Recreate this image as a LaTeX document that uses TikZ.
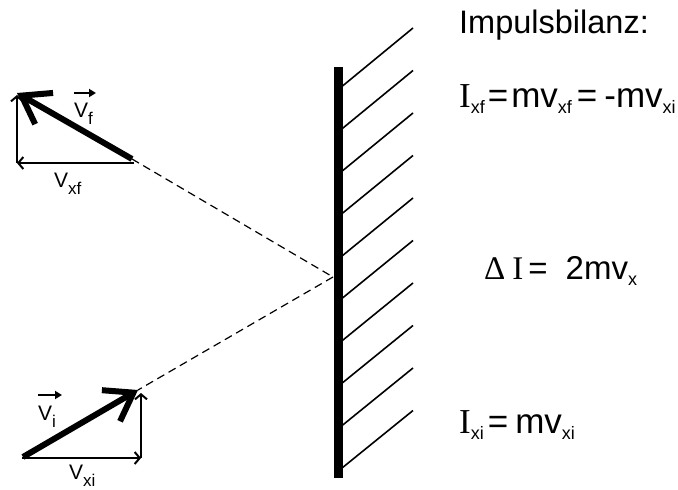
\documentclass[tikz,border=0pt]{standalone}
\usepackage{fontspec}
\setmainfont{Liberation Sans}
\newfontfamily\seriffont{Liberation Serif}
\usetikzlibrary{arrows.meta}
\newcommand{\eqsub}[1]{\raisebox{-6pt}{\fontsize{18}{18}\selectfont #1}}
\newcommand{\lbsub}[1]{\raisebox{-7pt}{\fontsize{17}{17}\selectfont #1}}
\tikzset{
  vecarrow/.style={line width=6pt, -{Straight Barb[length=26pt,width=36pt]}},
  comparrow/.style={line width=2pt, -{Straight Barb[length=5pt,width=12pt]}},
  dash line/.style={line width=1.2pt, dash pattern=on 8pt off 5pt},
  hatch/.style={line width=1.6pt},
  wallbar/.style={line width=9pt},
  vlabel/.style={anchor=base west, inner sep=0pt, font=\fontsize{21}{21}\selectfont},
  eqlabel/.style={anchor=base west, inner sep=0pt, font=\fontsize{35}{35}\selectfont},
  overarrow/.style={line width=2.6pt, -{Triangle[length=7pt,width=8pt]}}
}
\begin{document}
\begin{tikzpicture}[x=1pt,y=-1pt]
\useasboundingbox (0,0) rectangle (678,490);
% wall
\coordinate (wtop) at (338,67);
\coordinate (wbot) at (338,478);
\draw[wallbar] (wtop) -- (wbot);
\foreach \k in {0,...,9}{
  \coordinate (hs\k) at (342.5,{86+42.4*\k});
  \coordinate (he\k) at (413,{28+42.5*\k});
  \draw[hatch] (hs\k) -- (he\k);
}
% hit point
\coordinate (hit) at (333,277);
% final velocity
\coordinate (ftail) at (132,159);
\coordinate (ftip) at (17,93);
\coordinate (fhor) at (134,163);
\coordinate (fcorner) at (17,163);
\coordinate (fvert) at (17,95);
\draw[dash line] (ftail) -- (hit);
\draw[comparrow] (fhor) -- (fcorner);
\draw[comparrow] (fcorner) -- (fvert);
\draw[vecarrow] (ftail) -- (ftip);
% initial velocity
\coordinate (itail) at (23,457);
\coordinate (itip) at (138,390);
\coordinate (ihor) at (22,458);
\coordinate (icorner) at (141,458);
\coordinate (ivert) at (141,393);
\draw[dash line] (hit) -- (itip);
\draw[comparrow] (ihor) -- (icorner);
\draw[comparrow] (icorner) -- (ivert);
\draw[vecarrow] (itail) -- (itip);
% labels
\node[vlabel] (vf) at (74,117) {V\lbsub{f}};
\coordinate (vfa) at (74,93);
\coordinate (vfb) at (96,93);
\draw[overarrow] (vfa) -- (vfb);
\node[vlabel] (vxf) at (54,187) {V\lbsub{xf}};
\node[vlabel] (vi) at (38,420) {V\lbsub{i}};
\coordinate (via) at (38,395);
\coordinate (vib) at (62,395);
\draw[overarrow] (via) -- (vib);
\node[vlabel] (vxi) at (69,479) {V\lbsub{xi}};
% equations
\node[anchor=base west, inner sep=0pt, font=\fontsize{32.5}{32.5}\selectfont] (title) at (459,33) {Impulsbilanz:};
\node[eqlabel] (eq1) at (459,107) {{\seriffont I}\eqsub{xf}\kern3pt=\kern3pt mv\eqsub{xf}\kern5pt=\kern7pt-mv\eqsub{xi}};
\node[anchor=base west, inner sep=0pt, font=\fontsize{33}{33}\selectfont] (eq2) at (484,279) {{\seriffont Δ\kern7pt I}\kern5pt=\kern18pt 2mv\eqsub{x}};
\node[eqlabel] (eq3) at (459,433) {{\seriffont I}\eqsub{xi}\kern4pt=\kern7pt mv\eqsub{xi}};
\end{tikzpicture}
\end{document}
